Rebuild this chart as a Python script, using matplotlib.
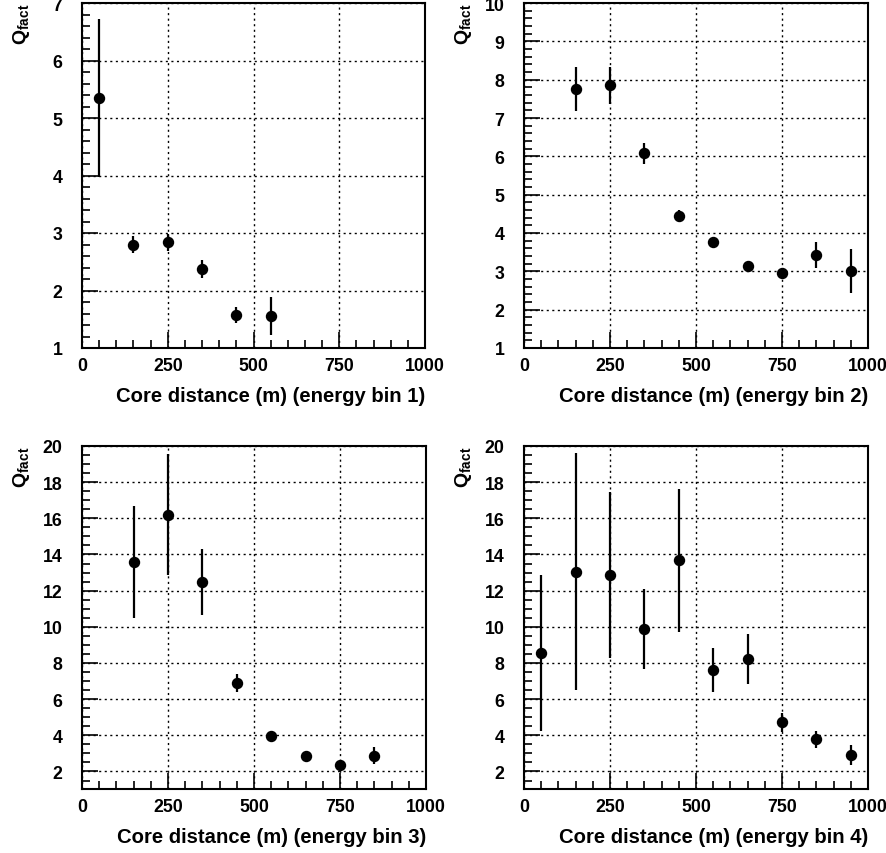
import numpy as np
import matplotlib
matplotlib.use("Agg")
import matplotlib.pyplot as plt
from matplotlib.ticker import MultipleLocator

plt.rcParams["font.family"] = ["Liberation Sans", "DejaVu Sans"]
plt.rcParams["font.weight"] = "bold"
plt.rcParams["mathtext.fontset"] = "custom"
plt.rcParams["mathtext.rm"] = "Liberation Sans:bold"
plt.rcParams["mathtext.bf"] = "Liberation Sans:bold"
plt.rcParams["mathtext.it"] = "Liberation Sans:bold"
plt.rcParams["mathtext.default"] = "bf"

# core distance bin centres (m)
x1 = [50, 150, 250, 350, 450, 550]
q1 = [5.35, 2.80, 2.84, 2.37, 1.57, 1.55]
e1 = [1.38, 0.14, 0.15, 0.16, 0.14, 0.33]

x2 = [150, 250, 350, 450, 550, 650, 750, 850, 950]
q2 = [7.76, 7.85, 6.08, 4.45, 3.77, 3.14, 2.96, 3.42, 3.00]
e2 = [0.58, 0.49, 0.28, 0.15, 0.07, 0.08, 0.06, 0.34, 0.57]

x3 = [150, 250, 350, 450, 550, 650, 750, 850]
q3 = [13.59, 16.20, 12.47, 6.88, 3.97, 2.83, 2.33, 2.87]
e3 = [3.08, 3.33, 1.82, 0.50, 0.10, 0.10, 0.10, 0.48]

x4 = [50, 150, 250, 350, 450, 550, 650, 750, 850, 950]
q4 = [8.56, 13.05, 12.87, 9.87, 13.68, 7.60, 8.21, 4.71, 3.77, 2.92]
e4 = [4.31, 6.57, 4.57, 2.21, 3.96, 1.22, 1.38, 0.50, 0.48, 0.55]

panels = [
    (x1, q1, e1, (1, 7), 1, 0.2, "Core distance (m) (energy bin 1)"),
    (x2, q2, e2, (1, 10), 1, 0.2, "Core distance (m) (energy bin 2)"),
    (x3, q3, e3, (1.03, 20), 2, 0.5, "Core distance (m) (energy bin 3)"),
    (x4, q4, e4, (1.03, 20), 2, 0.5, "Core distance (m) (energy bin 4)"),
]

W, H = 886, 854
fig = plt.figure(figsize=(W / 100, H / 100), dpi=100)
boxes = [(82, 4, 425, 349), (524, 4, 868, 349),
         (82, 447, 426, 790), (524, 447, 868, 790)]

for (x, q, e, ylim, ymaj, ymin, xlab), (l, t, r, b) in zip(panels, boxes):
    ax = fig.add_axes([l / W, 1 - b / H, (r - l) / W, (b - t) / H])
    ax.errorbar(x, q, yerr=e, fmt="o", color="black", ms=7.2,
                elinewidth=1.6, capsize=0)
    ax.set_xlim(0, 1000)
    ax.set_ylim(*ylim)
    ax.xaxis.set_major_locator(MultipleLocator(250))
    ax.xaxis.set_minor_locator(MultipleLocator(50))
    ax.yaxis.set_major_locator(MultipleLocator(ymaj))
    ax.yaxis.set_minor_locator(MultipleLocator(ymin))
    ax.tick_params(which="both", direction="in", top=False, right=False,
                   width=1.2, labelsize=12.8)
    ax.tick_params(which="major", length=11.5)
    ax.tick_params(which="minor", length=5.8)
    ax.tick_params(axis="y", which="major", pad=14)
    ax.tick_params(axis="x", which="major", pad=6.5)
    for s in ax.spines.values():
        s.set_linewidth(1.5)
    ax.grid(True, which="major", color="black", linestyle=(0, (1.5, 2.5)),
            linewidth=1.0)
    ax.set_xlabel(xlab, fontsize=14.6, fontweight="bold", loc="right")
    ax.xaxis.set_label_coords(1.0, -0.11)
    ax.set_ylabel(r"$Q_{fact}$", fontsize=14, loc="top")
    ax.yaxis.set_label_coords(-0.145, 1.0)

fig.savefig("out.png", dpi=100)
